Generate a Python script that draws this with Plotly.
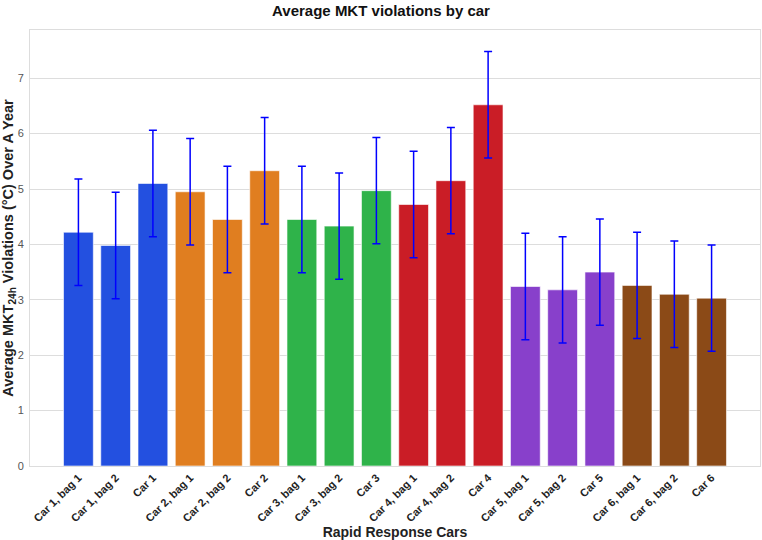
import plotly.graph_objects as go

categories = ["Car 1, bag 1", "Car 1, bag 2", "Car 1",
              "Car 2, bag 1", "Car 2, bag 2", "Car 2",
              "Car 3, bag 1", "Car 3, bag 2", "Car 3",
              "Car 4, bag 1", "Car 4, bag 2", "Car 4",
              "Car 5, bag 1", "Car 5, bag 2", "Car 5",
              "Car 6, bag 1", "Car 6, bag 2", "Car 6"]
values = [4.22, 3.98, 5.10, 4.95, 4.45, 5.33, 4.45, 4.33, 4.97,
          4.72, 5.15, 6.52, 3.24, 3.18, 3.50, 3.26, 3.10, 3.03]
errors = [0.96, 0.96, 0.96, 0.96, 0.96, 0.96, 0.96, 0.96, 0.96,
          0.96, 0.96, 0.96, 0.96, 0.96, 0.96, 0.96, 0.96, 0.96]
car_colors = ["#2350E0", "#E07E20", "#2FB34A", "#CA1D26", "#8840CB", "#8B4A17"]
bar_colors = [car_colors[i // 3] for i in range(len(categories))]

fig = go.Figure()
fig.add_trace(go.Bar(
    x=list(range(len(categories))),
    y=values,
    width=0.8,
    marker=dict(color=bar_colors, line=dict(color="rgba(255,255,255,0.6)", width=1)),
    error_y=dict(type="data", array=errors, visible=True, color="#0000FF",
                 thickness=1.5, width=4),
    showlegend=False,
))

font_family = "Liberation Sans, Arial, sans-serif"
fig.update_layout(
    width=762, height=540,
    margin=dict(l=30, r=2, t=30, b=74),
    paper_bgcolor="white", plot_bgcolor="white",
    font=dict(family=font_family, color="#222222"),
    title=dict(text="<b>Average MKT violations by car</b>", x=0.5, xanchor="center",
               y=0.98, yanchor="middle", font=dict(size=15, color="#111111")),
    xaxis=dict(
        tickmode="array", tickvals=list(range(len(categories))),
        ticktext=["<b>%s</b>" % c for c in categories],
        tickangle=-45, tickfont=dict(size=11, color="#222222"),
        range=[-1.3, 18.3], showgrid=False, zeroline=False, automargin=False,
        showline=True, linecolor="#DDDDDD", linewidth=1, mirror=True,
        title=dict(text="<b>Rapid Response Cars</b>", font=dict(size=14, color="#222222"),
                   standoff=4),
    ),
    yaxis=dict(
        range=[0, 7.87], dtick=1, tickfont=dict(size=11, color="#555555"),
        showgrid=True, gridcolor="#DDDDDD", gridwidth=1, zeroline=False,
        showline=True, linecolor="#DDDDDD", linewidth=1, mirror=True, automargin=False,
        ticks="", ticklabelstandoff=3,
        title=dict(text="<b>Average MKT<sub>24h</sub> Violations (°C) Over A Year</b>",
                   font=dict(size=14.5, color="#222222"), standoff=7),
    ),
)

fig.write_html("out.html")
